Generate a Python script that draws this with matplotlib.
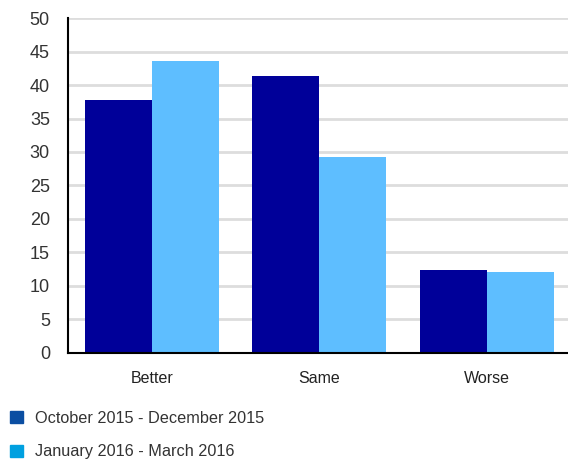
import matplotlib.pyplot as plt
import numpy as np
from matplotlib.patches import Patch

plt.rcParams['font.family'] = ['Liberation Sans', 'DejaVu Sans']

categories = ['Better', 'Same', 'Worse']
oct_dec_2015 = [37.8, 41.3, 12.4]
jan_mar_2016 = [43.6, 29.2, 12.1]
series_labels = ['October 2015 - December 2015', 'January 2016 - March 2016']

fig = plt.figure(figsize=(5.68, 4.62), dpi=100)
ax = fig.add_axes([0.1197, 0.236, 0.8803, 0.725])

x = np.arange(len(categories))
w = 0.4
ax.bar(x - w / 2, oct_dec_2015, w, color='#000099', zorder=3)
ax.bar(x + w / 2, jan_mar_2016, w, color='#5EBEFF', zorder=3)

ax.set_ylim(0, 50)
ax.set_xlim(-0.5, 2.485)
ax.set_yticks(np.arange(0, 51, 5))
ax.set_xticks(x)
ax.set_xticklabels(categories)
ax.tick_params(axis='y', length=0, pad=13, labelsize=13, labelcolor='#333333')
ax.tick_params(axis='x', length=0, pad=13, labelsize=11.5, labelcolor='#222222')
ax.yaxis.grid(True, color='#DDDDDD', linewidth=2)
ax.set_axisbelow(True)
for s in ['top', 'right']:
    ax.spines[s].set_visible(False)
ax.spines['left'].set_linewidth(1.5)
ax.spines['bottom'].set_linewidth(1.5)
ax.spines['left'].set_zorder(4)
ax.spines['bottom'].set_zorder(4)

# legend swatches use the report's palette, not the bar fills
handles = [Patch(color='#0B4EA2'), Patch(color='#00A0E0')]
fig.legend(handles, series_labels, loc='upper left', bbox_to_anchor=(10 / 568, 0.111),
           frameon=False, fontsize=11.7, handlelength=0.8, handleheight=0.8,
           handletextpad=0.75, labelspacing=1.15, labelcolor='#333333',
           borderpad=0, borderaxespad=0)

fig.savefig('out.png', dpi=100)
